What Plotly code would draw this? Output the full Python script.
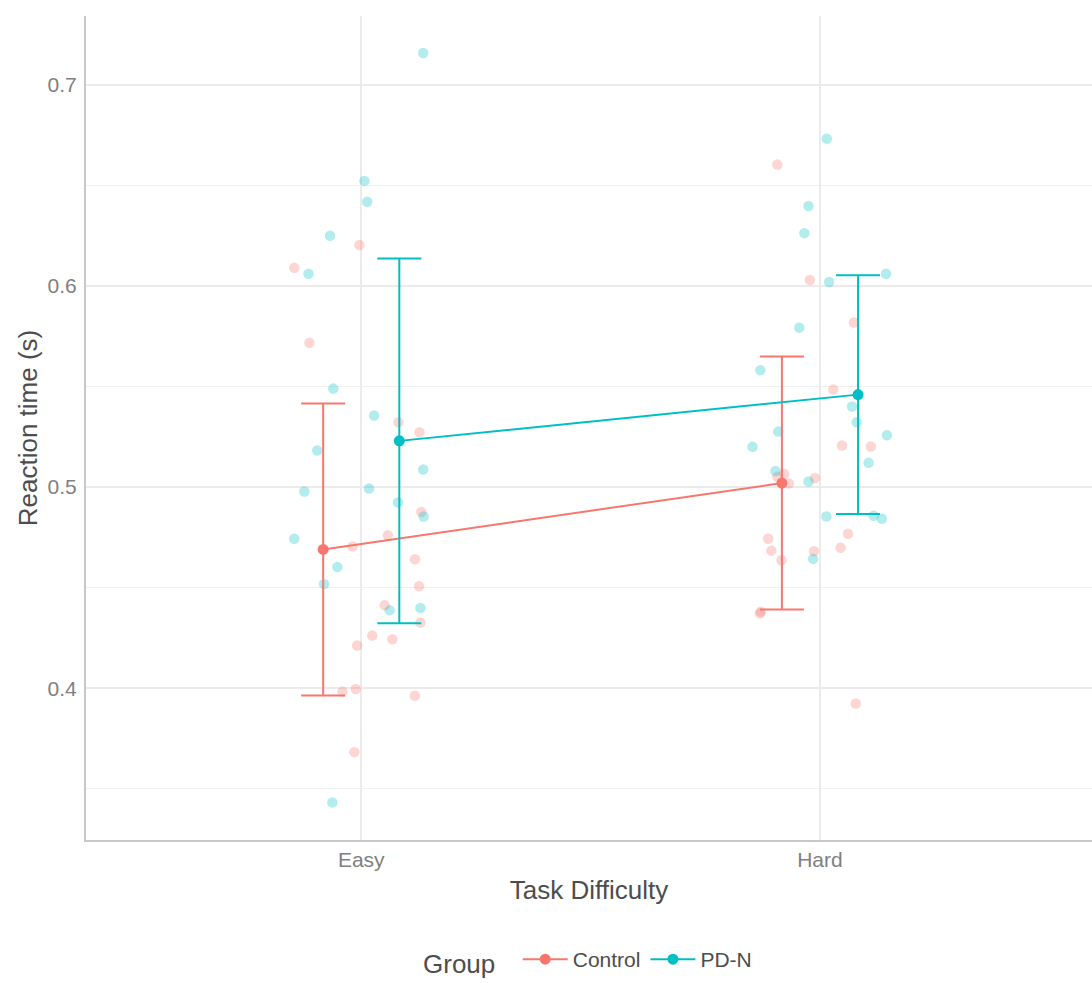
import plotly.graph_objects as go

# ---------------- data ----------------
categories = ["Easy", "Hard"]
groups = ["Control", "PD-N"]

# individual participants: jitter offset around category + reaction time (s)
easy_control_jit = [-0.146, -0.004, -0.113, 0.081, 0.127, 0.058, -0.019, 0.117, 0.126, 0.051,
                    0.129, 0.024, 0.068, -0.009, -0.041, -0.012, 0.117, -0.015, 0.131]
easy_control_rt = [0.6091, 0.6204, 0.5718, 0.5323, 0.5273, 0.4760, 0.4705, 0.4641, 0.4507, 0.4412,
                   0.4326, 0.4262, 0.4243, 0.4212, 0.3984, 0.3996, 0.3962, 0.3682, 0.4876]

easy_pdn_jit = [0.135, 0.007, 0.013, -0.068, -0.115, -0.061, 0.028, -0.096, 0.017, -0.124,
                0.135, 0.080, 0.136, -0.146, -0.052, -0.081, 0.062, 0.129, -0.063]
easy_pdn_rt = [0.7159, 0.6523, 0.6419, 0.6250, 0.6061, 0.5490, 0.5356, 0.5182, 0.4993, 0.4978,
               0.5088, 0.4924, 0.4854, 0.4743, 0.4603, 0.4518, 0.4387, 0.4399, 0.3432]

hard_control_jit = [-0.093, -0.022, 0.074, 0.029, 0.048, 0.111, -0.078, -0.093, -0.068, -0.011,
                    -0.113, -0.106, -0.084, -0.013, 0.061, 0.045, -0.131, -0.129, 0.078]
hard_control_rt = [0.6604, 0.6030, 0.5819, 0.5485, 0.5207, 0.5202, 0.5066, 0.5051, 0.5018, 0.5045,
                   0.4743, 0.4684, 0.4636, 0.4681, 0.4768, 0.4699, 0.4372, 0.4380, 0.3924]

hard_pdn_jit = [0.015, -0.025, -0.034, 0.144, 0.020, -0.045, -0.130, 0.070, 0.080, 0.146,
                -0.091, -0.147, 0.106, -0.097, -0.025, 0.014, 0.117, 0.135, -0.015]
hard_pdn_rt = [0.6733, 0.6398, 0.6263, 0.6061, 0.6020, 0.5793, 0.5581, 0.5401, 0.5323, 0.5258,
               0.5276, 0.5201, 0.5121, 0.5080, 0.5028, 0.4854, 0.4857, 0.4843, 0.4643]

# group means and SD (Easy, Hard)
control_mean = [0.469, 0.502]
control_sd = [0.0726, 0.0629]
pdn_mean = [0.523, 0.546]
pdn_sd = [0.0907, 0.0594]

# ---------------- style ----------------
COLORS = {"Control": "#F8766D", "PD-N": "#00BFC4"}
DODGE = 0.083
FONT = "Liberation Sans"
TITLE_SIZE = 26
TEXT_SIZE = 21

fig = go.Figure()

raw = {
    "Control": [(easy_control_jit, easy_control_rt), (hard_control_jit, hard_control_rt)],
    "PD-N": [(easy_pdn_jit, easy_pdn_rt), (hard_pdn_jit, hard_pdn_rt)],
}
for g in groups:
    for ci, (jit, rt) in enumerate(raw[g]):
        fig.add_trace(go.Scatter(
            x=[ci + 1 + j for j in jit], y=rt, mode="markers",
            marker=dict(color=COLORS[g], size=10.5, opacity=0.3, line=dict(width=0)),
            showlegend=False, hoverinfo="y"))

summ = {"Control": (control_mean, control_sd, -DODGE), "PD-N": (pdn_mean, pdn_sd, DODGE)}
for g in groups:
    m, sd, off = summ[g]
    fig.add_trace(go.Scatter(
        x=[i + 1 + off for i in range(len(categories))], y=m, mode="lines+markers",
        name=g, line=dict(color=COLORS[g], width=2),
        marker=dict(color=COLORS[g], size=11),
        error_y=dict(type="data", array=sd, visible=True, color=COLORS[g],
                     thickness=2, width=22)))

fig.update_layout(
    width=1092, height=983,
    margin=dict(l=86, r=0, t=16, b=143, autoexpand=False),
    paper_bgcolor="white", plot_bgcolor="white",
    font=dict(family=FONT, color="#4D4D4D"),
    showlegend=True,
    legend=dict(orientation="h", x=0.5, xanchor="center",
                yref="container", y=0.0, yanchor="bottom",
                title=dict(text="Group  ", font=dict(size=TITLE_SIZE, color="#4D4D4D")),
                font=dict(size=TEXT_SIZE, color="#4D4D4D"), itemwidth=45),
    xaxis=dict(
        range=[0.4, 2.593], tickmode="array", tickvals=[1, 2], ticktext=categories,
        showgrid=True, gridcolor="#EBEBEB", gridwidth=2, zeroline=False,
        showline=True, linecolor="#C8C8C8", linewidth=2, automargin=False,
        ticks="", tickfont=dict(size=TEXT_SIZE, color="#808080"),
        title=dict(text="Task Difficulty", font=dict(size=TITLE_SIZE, color="#4D4D4D"), standoff=11),
    ),
    yaxis=dict(
        range=[0.3245, 0.7343], tick0=0.4, dtick=0.1, tickformat=".1f",
        showgrid=True, gridcolor="#EBEBEB", gridwidth=2, zeroline=False,
        minor=dict(tick0=0.35, dtick=0.1, showgrid=True, gridcolor="#F0F0F0", gridwidth=1),
        showline=True, linecolor="#C8C8C8", linewidth=2, automargin=False,
        ticks="", tickfont=dict(size=TEXT_SIZE, color="#808080"), ticklabelstandoff=3,
        title=dict(text="Reaction time (s)", font=dict(size=TITLE_SIZE, color="#4D4D4D"), standoff=2),
    ),
)

fig.write_html("out.html")
